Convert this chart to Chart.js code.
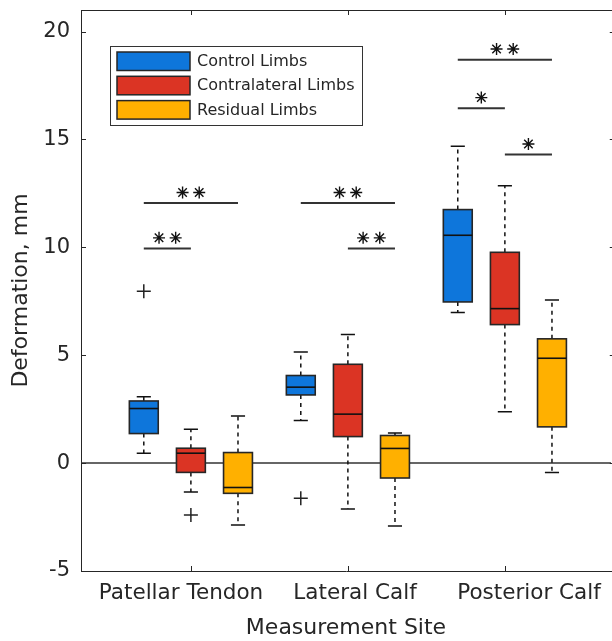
<!DOCTYPE html>
<html>
<head>
<meta charset="utf-8">
<title>Deformation by measurement site</title>
<script src="https://cdn.jsdelivr.net/npm/chart.js@4.4.1/dist/chart.umd.min.js"></script>
<style>
  html, body { margin: 0; padding: 0; background: #fff; }
  #wrap { width: 612px; height: 641px; }
</style>
</head>
<body>
<div id="wrap"><canvas id="chart" width="612" height="641"></canvas></div>
<script>
/* Box plot: deformation per measurement site and limb group */

const sites = ['Patellar Tendon', 'Lateral Calf', 'Posterior Calf'];
const groups = ['Control Limbs', 'Contralateral Limbs', 'Residual Limbs'];
const groupColors = ['#0e76db', '#db3424', '#ffb000'];
const groupOffset = [-0.3, 0, 0.3];

// per group, one value per site
const whiskerLow  = [[0.46, 1.98, 6.98], [-1.34, -2.13, 2.38], [-2.87, -2.92, -0.43]];
const quart1      = [[1.37, 3.16, 7.47], [-0.43, 1.23, 6.42], [-1.40, -0.69, 1.68]];
const medians     = [[2.53, 3.52, 10.56], [0.46, 2.27, 7.16], [-1.13, 0.68, 4.86]];
const quart3      = [[2.88, 4.06, 11.75], [0.69, 4.58, 9.77], [0.49, 1.28, 5.76]];
const whiskerHigh = [[3.07, 5.15, 14.68], [1.57, 5.96, 12.86], [2.18, 1.40, 7.56]];
const outliers    = [[[7.96], [-1.63], []], [[-2.41], [], []], [[], [], []]];

// significance brackets
const sigFrom  = [0.7, 0.7, 1.7, 2.0, 2.7, 2.7, 3.0];
const sigTo    = [1.3, 1.0, 2.3, 2.3, 3.3, 3.0, 3.3];
const sigLevel = [12.05, 9.95, 12.05, 9.95, 18.7, 16.45, 14.3];
const sigStars = [2, 2, 2, 2, 2, 1, 1];

const yTicks = [-5, 0, 5, 10, 15, 20];
const xTicks = [1, 2, 3];

const INK = '#262626';
const FONT = '"DejaVu Sans", "Liberation Sans", Arial, sans-serif';
const BOX_HALF = 0.092, CAP_HALF = 0.045, STAR_GAP = 0.053, STAR_LIFT = 0.49;

Chart.defaults.font.family = FONT;
Chart.defaults.color = INK;

// points for outliers
const outlierPts = [];
groups.forEach((g, gi) => sites.forEach((s, si) => {
  outliers[gi][si].forEach(v => outlierPts.push({ x: si + 1 + groupOffset[gi], y: v }));
}));

// stars above each bracket
const starPts = [];
sigFrom.forEach((f, i) => {
  const mid = (f + sigTo[i]) / 2;
  const n = sigStars[i];
  for (let k = 0; k < n; k++) {
    starPts.push({ x: mid + (k - (n - 1) / 2) * 2 * STAR_GAP, y: sigLevel[i] + STAR_LIFT });
  }
});

const datasets = [];
sigFrom.forEach((f, i) => datasets.push({
  type: 'line',
  data: [{ x: f, y: sigLevel[i] }, { x: sigTo[i], y: sigLevel[i] }],
  borderColor: '#333', borderWidth: 2, pointRadius: 0,
}));
datasets.push({
  type: 'scatter', data: starPts, pointStyle: 'star', radius: 6,
  borderColor: '#111', borderWidth: 1.4, backgroundColor: '#111',
});
datasets.push({
  type: 'scatter', data: outlierPts, pointStyle: 'cross', radius: 7,
  borderColor: '#222', borderWidth: 1.5,
});

const boxPlugin = {
  id: 'boxes',
  beforeDatasetsDraw(chart) {
    const { ctx, chartArea: a, scales: { x, y } } = chart;
    ctx.save();
    // zero line
    ctx.strokeStyle = '#333'; ctx.lineWidth = 1.5;
    ctx.beginPath(); ctx.moveTo(a.left, y.getPixelForValue(0)); ctx.lineTo(a.right, y.getPixelForValue(0)); ctx.stroke();

    groups.forEach((g, gi) => sites.forEach((s, si) => {
      const c = si + 1 + groupOffset[gi];
      const xc = x.getPixelForValue(c);
      const xl = x.getPixelForValue(c - BOX_HALF), xr = x.getPixelForValue(c + BOX_HALF);
      const cl = x.getPixelForValue(c - CAP_HALF), cr = x.getPixelForValue(c + CAP_HALF);
      const pLo = y.getPixelForValue(whiskerLow[gi][si]), pHi = y.getPixelForValue(whiskerHigh[gi][si]);
      const p1 = y.getPixelForValue(quart1[gi][si]), p3 = y.getPixelForValue(quart3[gi][si]);
      const pm = y.getPixelForValue(medians[gi][si]);

      // whiskers
      ctx.strokeStyle = '#111'; ctx.lineWidth = 1.5;
      ctx.setLineDash([4, 4]);
      ctx.beginPath();
      ctx.moveTo(xc, p3); ctx.lineTo(xc, pHi);
      ctx.moveTo(xc, p1); ctx.lineTo(xc, pLo);
      ctx.stroke();
      ctx.setLineDash([]);
      ctx.beginPath();
      ctx.moveTo(cl, pHi); ctx.lineTo(cr, pHi);
      ctx.moveTo(cl, pLo); ctx.lineTo(cr, pLo);
      ctx.stroke();

      // box
      ctx.fillStyle = groupColors[gi];
      ctx.fillRect(xl, p3, xr - xl, p1 - p3);
      ctx.strokeStyle = INK; ctx.lineWidth = 1.6;
      ctx.strokeRect(xl, p3, xr - xl, p1 - p3);
      ctx.strokeStyle = '#111';
      ctx.beginPath(); ctx.moveTo(xl, pm); ctx.lineTo(xr, pm); ctx.stroke();
    }));
    ctx.restore();
  },
  afterDraw(chart) {
    const { ctx, chartArea: a, scales: { x, y } } = chart;
    ctx.save();
    ctx.strokeStyle = INK; ctx.lineWidth = 1;
    // top frame line
    ctx.beginPath(); ctx.moveTo(a.left, a.top + 0.5); ctx.lineTo(a.right + 2, a.top + 0.5); ctx.stroke();
    // inward ticks
    const rightEdge = x.getPixelForValue(3.7);
    ctx.beginPath();
    yTicks.forEach(v => {
      const py = Math.round(y.getPixelForValue(v)) + 0.5;
      ctx.moveTo(a.left, py); ctx.lineTo(a.left + 5, py);
      ctx.moveTo(rightEdge, py); ctx.lineTo(rightEdge - 5, py);
    });
    xTicks.forEach(v => {
      const px = Math.round(x.getPixelForValue(v)) + 0.5;
      ctx.moveTo(px, a.bottom); ctx.lineTo(px, a.bottom - 5);
      ctx.moveTo(px, a.top); ctx.lineTo(px, a.top + 5);
    });
    ctx.stroke();

    // legend
    const lx = 110, ly = 46, lw = 252, lh = 79;
    ctx.fillStyle = '#fff';
    ctx.fillRect(lx, ly, lw, lh);
    ctx.strokeStyle = '#333'; ctx.lineWidth = 1;
    ctx.strokeRect(lx + 0.5, ly + 0.5, lw, lh);
    ctx.font = '16px ' + FONT;
    ctx.textBaseline = 'middle';
    groups.forEach((g, i) => {
      const ry = ly + 6 + i * 24.3;
      ctx.fillStyle = groupColors[i];
      ctx.fillRect(117, ry, 73, 18.5);
      ctx.strokeStyle = INK; ctx.lineWidth = 1.5;
      ctx.strokeRect(117, ry, 73, 18.5);
      ctx.fillStyle = INK;
      ctx.fillText(g, 197, ry + 10);
    });
    ctx.restore();
  }
};

new Chart(document.getElementById('chart'), {
  type: 'scatter',
  data: { datasets },
  plugins: [boxPlugin],
  options: {
    responsive: false,
    animation: false,
    layout: { autoPadding: false, padding: { top: 10, right: 1, left: 0, bottom: 0 } },
    plugins: { legend: { display: false }, tooltip: { enabled: false } },
    scales: {
      x: {
        type: 'linear', min: 0.3, max: 3.676, position: 'bottom',
        afterFit: s => { s.height = 0; s.paddingLeft = 0; s.paddingRight = 0; },
        afterBuildTicks: s => { s.ticks = xTicks.map(v => ({ value: v })); },
        grid: { display: false, drawTicks: false },
        border: { display: true, color: INK, width: 1 },
        ticks: { display: false },
      },
      // label-only axis: the site names sit a little wider apart than the box groups
      xl: {
        type: 'linear', min: 0.4253, max: 3.471, position: 'bottom',
        afterFit: s => { s.height = 70; s.paddingLeft = 0; s.paddingRight = 0; },
        afterBuildTicks: s => { s.ticks = xTicks.map(v => ({ value: v })); },
        grid: { display: false, drawTicks: false },
        border: { display: false },
        ticks: { callback: v => sites[v - 1], font: { size: 21.5 }, padding: 10, maxRotation: 0, autoSkip: false },
        title: { display: true, text: 'Measurement Site', font: { size: 22 }, padding: { top: 2, bottom: 0 } },
      },
      y: {
        type: 'linear', min: -5, max: 21,
        afterFit: s => { s.width = 81; s.paddingTop = 0; s.paddingBottom = 0; },
        afterBuildTicks: s => { s.ticks = yTicks.map(v => ({ value: v })); },
        grid: { display: false, drawTicks: false },
        border: { display: true, color: INK, width: 1 },
        ticks: { font: { size: 21 }, padding: 11 },
        title: { display: true, text: 'Deformation, mm', font: { size: 22 }, padding: { top: 8, bottom: 0 } },
      }
    }
  }
});
</script>
</body>
</html>
